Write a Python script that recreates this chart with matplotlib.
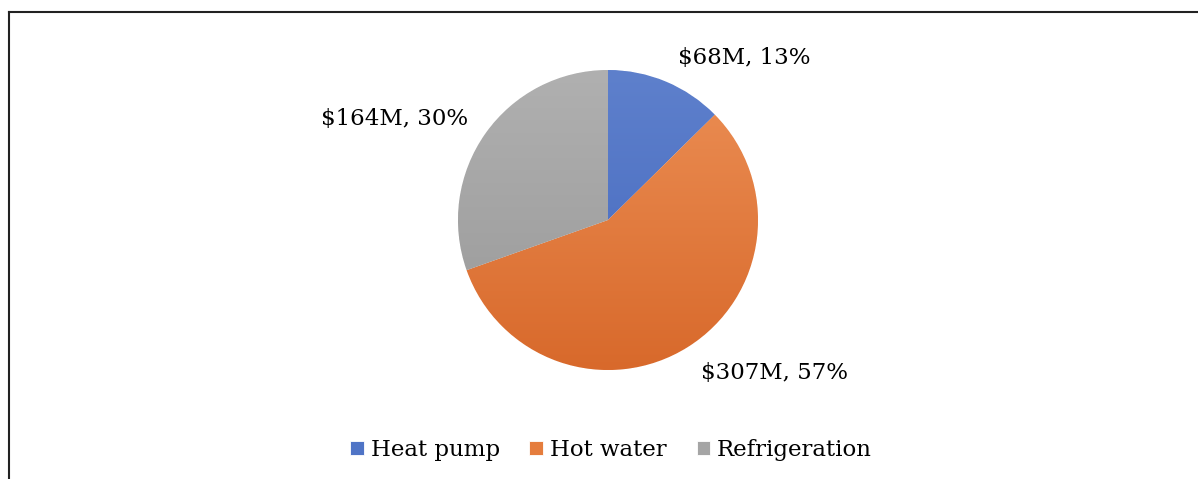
import numpy as np
import matplotlib.pyplot as plt
from matplotlib.lines import Line2D
from matplotlib.colors import LinearSegmentedColormap

categories = ['Heat pump', 'Hot water', 'Refrigeration']
values = [68, 307, 164]          # $M
percents = [13, 57, 30]
colors = ['#4F74C6', '#E57D3D', '#A5A5A5']
# light (top) -> dark (bottom) shading used inside each slice
shades = [('#5E80CC', '#4468BE'), ('#EC8F55', '#D8692B'), ('#B0B0B0', '#989898')]

# label spots, in pie-radius units from the centre
label_pos = [(0.91, 1.08), (1.11, -1.02), (-1.42, 0.67)]

plt.rcParams['font.family'] = ['DejaVu Serif']

W, H = 1198, 479
fig = plt.figure(figsize=(W / 100, H / 100), dpi=100)
ax = fig.add_axes([0, 0, 1, 1])

wedges, _ = ax.pie(values, colors=colors, startangle=90, counterclock=False,
                   radius=1, wedgeprops=dict(edgecolor='white', linewidth=0.6))

# soft vertical gradient in each slice
grad = np.linspace(0, 1, 256).reshape(-1, 1)
for w, (top, bot) in zip(wedges, shades):
    cmap = LinearSegmentedColormap.from_list('g', [top, bot])
    im = ax.imshow(grad, cmap=cmap, extent=(-1, 1, -1, 1), origin='upper',
                   aspect='auto', zorder=w.get_zorder() + 0.1)
    im.set_clip_path(w)

# pie centre and radius in pixels; pie() resets limits so set them afterwards
cx, cy, r = 608, 220, 150
ax.set_xlim(-cx / r, (W - cx) / r)
ax.set_ylim(-(H - cy) / r, cy / r)
ax.set_aspect('equal')
ax.axis('off')

for v, p, (x, y) in zip(values, percents, label_pos):
    ax.text(x, y, f'${v}M, {p}%', ha='center', va='center', fontsize=16.5, color='black')

ax.legend(wedges, categories, loc='center', bbox_to_anchor=(0.51, 0.06),
          bbox_transform=fig.transFigure, ncol=3, frameon=False, fontsize=16.5,
          handlelength=0.6, handleheight=0.6, handletextpad=0.3, columnspacing=1.3)

# frame (left and top edges only are visible)
fig.add_artist(Line2D([8.5 / W, 8.5 / W], [0, 1 - 12 / H], color='#222222', lw=1.5))
fig.add_artist(Line2D([8.5 / W, 1], [1 - 12 / H, 1 - 12 / H], color='#222222', lw=1.5))

fig.savefig('out.png', dpi=100, facecolor='white')
